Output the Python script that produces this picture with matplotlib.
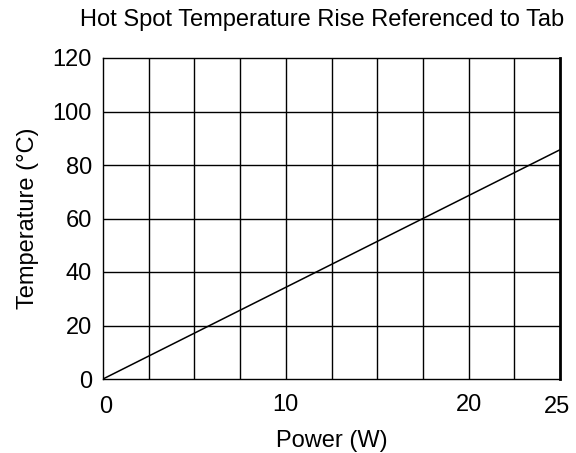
import matplotlib
matplotlib.use('Agg')
import matplotlib.pyplot as plt
import matplotlib.transforms as mtransforms
import numpy as np

plt.rcParams['font.family'] = ['Liberation Sans', 'DejaVu Sans']

# data
power = [0, 25]
temp_rise = [0, 85.7]

x_grid = np.arange(0, 25.01, 2.5)
y_ticks = [0, 20, 40, 60, 80, 100, 120]
x_ticks = [0, 10, 20, 25]

fs = 17
fig = plt.figure(figsize=(5.76, 4.53), dpi=100)
ax = fig.add_axes([103/576, 1 - 379/453, 457/576, 321/453])

ax.plot(power, temp_rise, color='black', lw=1.1)

for xv in x_grid[1:-1]:
    ax.axvline(xv, color='black', lw=1.0)
for yv in y_ticks[1:-1]:
    ax.axhline(yv, color='black', lw=1.0)

ax.set_xlim(0, 25)
ax.set_ylim(0, 120)
ax.set_xticks(x_ticks)
ax.set_yticks(y_ticks)
ax.tick_params(length=0, labelsize=fs)
ax.tick_params(axis='x', pad=12)
ax.tick_params(axis='y', pad=8)
for s in ax.spines.values():
    s.set_linewidth(1.0)
ax.spines['right'].set_linewidth(2.0)

# small nudges of the x labels, as placed in the original
shifts = [(3, 0), (0, 2), (0, 2), (-3, 0)]
for lab, (dx, dy) in zip(ax.get_xticklabels(), shifts):
    lab.set_transform(lab.get_transform() + mtransforms.ScaledTranslation(dx/100, dy/100, fig.dpi_scale_trans))

ax.set_xlabel('Power (W)', fontsize=fs, labelpad=9)
ax.set_ylabel('Temperature (°C)', fontsize=fs, labelpad=10)
fig.text(322/576, 1 - 20/453, 'Hot Spot Temperature Rise Referenced to Tab',
         fontsize=fs, ha='center', va='center')

fig.savefig('out.png', dpi=100)
